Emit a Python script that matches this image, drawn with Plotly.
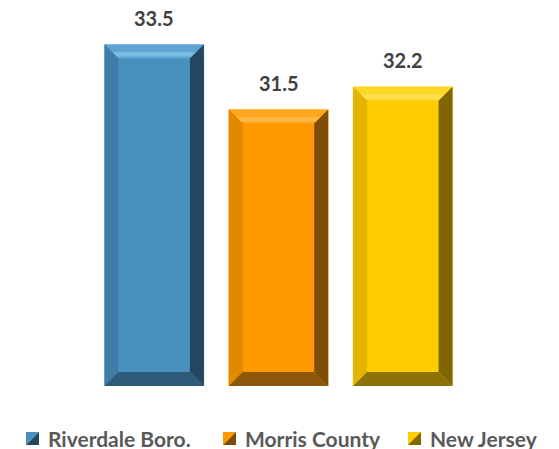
import plotly.graph_objects as go

categories = ["Riverdale Boro.", "Morris County", "New Jersey"]
values = [33.5, 31.5, 32.2]
face_colors = ["#4A90BF", "#FF9900", "#FFCC00"]
top_colors = ["#5FA5D3", "#FFA81F", "#FFD526"]
highlight_colors = ["#79BDE6", "#FFBA45", "#FFE055"]
left_colors = ["#3F7DA8", "#E38900", "#E3B500"]
right_colors = ["#24465E", "#7F4D05", "#806500"]
bottom_colors = ["#2F5B7A", "#8C5708", "#8C7208"]
edge_colors = ["#A9CDE6", "#FFD08A", "#FFE98A"]

y_min, y_max = 23, 34.5
bar_width = 0.8
FONT = "Lato"

# the page body has an 8px margin; lay the figure out in page pixels minus that
OFF = 8
W, H = 559 - OFF, 449 - OFF
plot_left, plot_right, plot_top, plot_bottom = 92, 465, 12, 386  # page pixels
M_L, M_T = plot_left - OFF, plot_top - OFF
M_R, M_B = W - (plot_right - OFF), H - (plot_bottom - OFF)
plot_w = plot_right - plot_left
plot_h = plot_bottom - plot_top
px_per_x = plot_w / 3.0
px_per_y = plot_h / (y_max - y_min)
bevel_px = 14


def paper_x(px):
    return (px - plot_left) / plot_w


def paper_y(py):
    return (plot_bottom - py) / plot_h


fig = go.Figure()
for i, (cat, val) in enumerate(zip(categories, values)):
    fig.add_trace(go.Bar(
        x=[i], y=[val], name=cat, width=bar_width, showlegend=False,
        marker=dict(color=face_colors[i], line=dict(color=edge_colors[i], width=1)),
        hoverinfo="name+y",
    ))

shapes = []
bx = bevel_px / px_per_x
by = bevel_px / px_per_y
for i, val in enumerate(values):
    x0, x1 = i - bar_width / 2, i + bar_width / 2
    top, bot = val, y_min
    hb = 0.55
    polys = [
        ([(x0, top), (x1, top), (x1 - bx, top - by), (x0 + bx, top - by)], top_colors[i]),
        ([(x0 + bx * hb, top - by * hb), (x1 - bx * hb, top - by * hb),
          (x1 - bx * 0.85, top - by * 0.85), (x0 + bx * 0.85, top - by * 0.85)], highlight_colors[i]),
        ([(x0, bot), (x0, top), (x0 + bx, top - by), (x0 + bx, bot + by)], left_colors[i]),
        ([(x1, top), (x1, bot), (x1 - bx, bot + by), (x1 - bx, top - by)], right_colors[i]),
        ([(x0, bot), (x1, bot), (x1 - bx, bot + by), (x0 + bx, bot + by)], bottom_colors[i]),
    ]
    for pts, col in polys:
        path = "M " + " L ".join(f"{px},{py}" for px, py in pts) + " Z"
        shapes.append(dict(type="path", path=path, xref="x", yref="y",
                           fillcolor=col, line=dict(width=0), layer="above"))

annotations = [
    dict(x=i, y=v, xref="x", yref="y", text=f"{v:.1f}", showarrow=False,
         yanchor="bottom", yshift=15, height=20, valign="middle",
         font=dict(family=FONT, size=20, color="#404040", weight="bold"))
    for i, v in enumerate(values)
]

# custom legend (squares + labels), page pixels
legend_sq_left = [26, 223, 408]
legend_sq_size = 13
legend_top = 432
for i, cat in enumerate(categories):
    sx0 = paper_x(legend_sq_left[i])
    sx1 = paper_x(legend_sq_left[i] + legend_sq_size)
    sy0 = paper_y(legend_top + legend_sq_size)
    sy1 = paper_y(legend_top)
    shapes.append(dict(type="path", xref="paper", yref="paper",
                       path=f"M {sx0},{sy0} L {sx0},{sy1} L {sx1},{sy1} Z",
                       fillcolor=face_colors[i], line=dict(width=0)))
    shapes.append(dict(type="path", xref="paper", yref="paper",
                       path=f"M {sx0},{sy0} L {sx1},{sy1} L {sx1},{sy0} Z",
                       fillcolor=right_colors[i], line=dict(width=0)))
    annotations.append(dict(
        x=paper_x(legend_sq_left[i] + legend_sq_size + 7), y=paper_y(legend_top + 6),
        xref="paper", yref="paper", xanchor="left", yanchor="middle",
        text=cat, showarrow=False,
        font=dict(family=FONT, size=21, color="#595959", weight="bold")))

fig.update_layout(
    width=W, height=H,
    margin=dict(l=M_L, r=M_R, t=M_T, b=M_B, pad=0),
    paper_bgcolor="white", plot_bgcolor="white",
    xaxis=dict(range=[-0.5, 2.5], showticklabels=False, showgrid=False,
               zeroline=False, showline=False, ticks="", fixedrange=True),
    yaxis=dict(range=[y_min, y_max], visible=False, fixedrange=True),
    shapes=shapes,
    annotations=annotations,
    showlegend=False,
    font=dict(family=FONT),
)

fig.write_html("out.html")
